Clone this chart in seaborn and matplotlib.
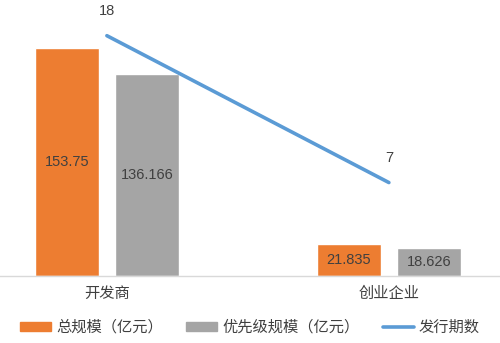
import matplotlib
matplotlib.use("Agg")
import matplotlib.pyplot as plt
import seaborn as sns
import pandas as pd
import numpy as np
from matplotlib.patches import Patch
from matplotlib.lines import Line2D

categories = ["开发商", "创业企业"]
total_scale = [153.75, 21.835]
senior_scale = [136.166, 18.626]
issues = [18, 7]
series_names = ["总规模（亿元）", "优先级规模（亿元）", "发行期数"]

sns.set_theme(style="white")
plt.rcParams['font.family'] = ['Liberation Sans', 'Noto Sans CJK SC', 'DejaVu Sans']

ORANGE = "#ED7D31"
GRAY = "#A5A5A5"
BLUE = "#5B9BD5"
TXT = "#404040"

df = pd.DataFrame({
    "cat": categories * 2,
    "series": [series_names[0]] * 2 + [series_names[1]] * 2,
    "value": total_scale + senior_scale,
})

fig = plt.figure(figsize=(5, 3.43), dpi=100)
ax = fig.add_axes([0, 0.1953, 1, 0.7785])
sns.barplot(data=df, x="cat", y="value", hue="series", order=categories,
            hue_order=series_names[:2], palette=[ORANGE, GRAY],
            width=0.568, gap=0.2, ax=ax, legend=False, saturation=1)
ax.set_ylim(0, 180)
ax.set_xlim(-0.379, 1.394)
for c in ax.containers:
    ax.bar_label(c, labels=[f"{v:g}" for v in c.datavalues], label_type="center",
                 fontsize=10.5, color=TXT)

ax.set_xlabel("")
ax.set_ylabel("")
ax.set_yticks([])
ax.tick_params(axis="x", length=0, labelsize=11, labelcolor=TXT, pad=8)
for s in ["top", "left", "right"]:
    ax.spines[s].set_visible(False)
ax.spines["bottom"].set_color("#D9D9D9")
ax.spines["bottom"].set_linewidth(1)

ax2 = ax.twinx()
xpos = np.arange(len(categories))
sns.lineplot(x=xpos, y=issues, ax=ax2, color=BLUE, linewidth=2.6, legend=False)
ax2.set_ylim(0, 20)
ax2.set_xlim(-0.379, 1.394)
ax2.set_yticks([])
for s in ax2.spines.values():
    s.set_visible(False)
for x, v in zip(xpos, issues):
    ax2.annotate(f"{v}", (x, v), xytext=(0, 17.5), textcoords="offset points",
                 ha="center", va="center", fontsize=10.5, color=TXT)

handles = [Patch(color=ORANGE), Patch(color=GRAY), Line2D([], [], color=BLUE, lw=2.6)]
fig.legend(handles, series_names, loc="center", bbox_to_anchor=(0.5, 0.045), ncol=3,
           frameon=False, fontsize=11, handlelength=2.0, handleheight=0.5,
           columnspacing=1.55, handletextpad=0.33, labelcolor=TXT)

fig.savefig("out.png", dpi=100)
